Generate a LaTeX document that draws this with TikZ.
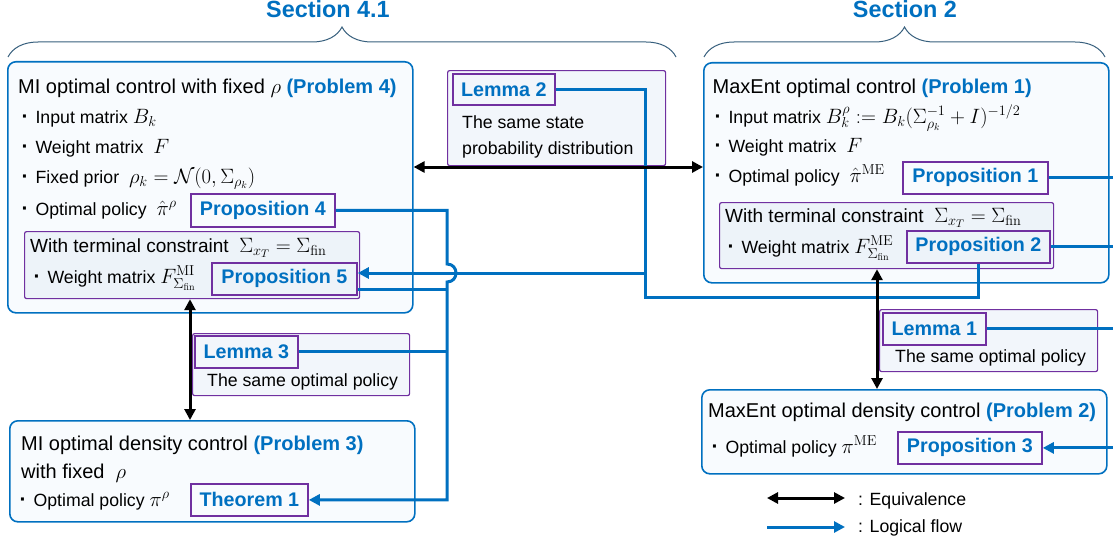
\documentclass[tikz,border=0pt]{standalone}
\usepackage[no-math]{fontspec}
\setmainfont{Liberation Sans}
\usetikzlibrary{arrows.meta,decorations.pathreplacing}
\definecolor{myblue}{RGB}{0,112,192}
\definecolor{mypurple}{RGB}{112,48,160}
\definecolor{boxfill}{RGB}{248,251,254}
\definecolor{innerfill}{RGB}{237,243,249}
\definecolor{lemfill}{RGB}{242,246,251}
\definecolor{bracecol}{RGB}{55,95,125}
\newcommand\itemfs{\fontsize{17.7pt}{21pt}\selectfont}
\newcommand\titlefs{\fontsize{20pt}{24pt}\selectfont}
\newcommand\termfs{\fontsize{19pt}{23pt}\selectfont}
\newcommand\labfs{\fontsize{19.7pt}{23pt}\selectfont\bfseries}
\newcommand\secfs{\fontsize{23.4pt}{28pt}\selectfont\bfseries}
\newcommand\mybul{\makebox[4.9pt][c]{\fontsize{21pt}{21pt}\selectfont\textbf{·}}\hspace{0.45em}}
\newcommand\mm[1]{{\fontsize{19.5pt}{23pt}\selectfont$#1$}}
\newcommand\mt[1]{{\fontsize{21pt}{25pt}\selectfont$#1$}}
\newcommand\prob[1]{\textcolor{myblue}{\textbf{(Problem #1)}}}
\begin{document}
\begin{tikzpicture}[x=1pt,y=-1pt,
  bigbox/.style={draw=myblue,line width=1.6pt,rounded corners=8pt,fill=boxfill,anchor=north west,inner sep=0pt},
  innerbox/.style={draw=mypurple,line width=1.2pt,rounded corners=2pt,fill=innerfill,anchor=north west,inner sep=0pt},
  lembox/.style={draw=mypurple,line width=1.2pt,rounded corners=2pt,fill=lemfill,anchor=north west,inner sep=0pt},
  labbox/.style={draw=mypurple,line width=1.8pt,anchor=north west,inner sep=0pt,text=myblue,font=\labfs},
  txt/.style={anchor=base west,inner sep=0pt,font=\itemfs},
  ttl/.style={anchor=base west,inner sep=0pt,font=\titlefs},
  trm/.style={anchor=base west,inner sep=0pt,font=\termfs},
  flow/.style={draw=myblue,line width=3pt},
  flowarrow/.style={flow,-{Triangle[length=11pt,width=11pt]}},
  equiv/.style={draw=black,line width=3pt,{Triangle[length=11pt,width=11pt]}-{Triangle[length=11pt,width=11pt]}},
  sbrace/.style={draw=bracecol,line width=1pt,decorate,decoration={brace,amplitude=30pt}}
]
\useasboundingbox (0,0) rectangle (1113,543);

% section labels and braces
\node[font=\secfs,text=myblue,anchor=base,inner sep=0pt] (s41) at (328,18) {Section 4.1};
\node[font=\secfs,text=myblue,anchor=base,inner sep=0pt] (s2) at (905,18) {Section 2};
\coordinate (br1a) at (8,57);
\coordinate (br1b) at (676,57);
\coordinate (br2a) at (704,57);
\coordinate (br2b) at (1105,57);
\draw[sbrace] (br1a) -- (br1b);
\draw[sbrace] (br2a) -- (br2b);

% big boxes
\node[bigbox,minimum width=405pt,minimum height=251pt] (A) at (7,61) {};
\node[innerbox,minimum width=335pt,minimum height=67pt] (IA) at (24,231) {};
\node[bigbox,minimum width=405pt,minimum height=220pt] (B) at (703,62) {};
\node[innerbox,minimum width=334pt,minimum height=66pt] (IB) at (719,202) {};
\node[bigbox,minimum width=405pt,minimum height=101pt] (C) at (9,420) {};
\node[bigbox,minimum width=405pt,minimum height=84pt] (D) at (701,389) {};
\node[lembox,minimum width=218pt,minimum height=95pt] (L2box) at (447,70) {};
\node[lembox,minimum width=217pt,minimum height=62pt] (L3box) at (192,333) {};
\node[lembox,minimum width=218pt,minimum height=62pt] (L1box) at (879,309) {};

% texts box A
\node[ttl] (At) at (18,93) {MI optimal control with fixed \mm{\rho} \prob{4}};
\node[txt] (Ai1) at (22.5,123) {\mybul Input matrix \mm{B_k}};
\node[txt] (Ai2) at (22.5,153) {\mybul Weight matrix~~\mm{F}};
\node[txt] (Ai3) at (22.5,183) {\mybul Fixed prior~~\mm{\rho_k = \mathcal{N}(0,\Sigma_{\rho_k})}};
\node[txt] (Ai4) at (22.5,215) {\mybul Optimal policy~~\mm{\hat{\pi}^{\rho}}};
\node[trm] (IAt) at (30,252) {With terminal constraint~~\mt{\Sigma_{x_T} = \Sigma_{\mathrm{fin}}}};
\node[txt] (IAi) at (34.5,283) {\mybul Weight matrix \mm{F^{\mathrm{MI}}_{\Sigma_{\mathrm{fin}}}}};

% texts box B
\node[ttl] (Bt) at (712.5,93) {MaxEnt optimal control \prob{1}};
\node[txt] (Bi1) at (715.5,123) {\mybul Input matrix \mm{B^{\rho}_k := B_k(\Sigma_{\rho_k}^{-1}+I)^{-1/2}}};
\node[txt] (Bi2) at (715.5,152) {\mybul Weight matrix~~\mm{F}};
\node[txt] (Bi3) at (715.5,182) {\mybul Optimal policy~~\mm{\hat{\pi}^{\mathrm{ME}}}};
\node[trm] (IBt) at (725,222) {With terminal constraint~~\mt{\Sigma_{x_T} = \Sigma_{\mathrm{fin}}}};
\node[txt] (IBi) at (728.5,253) {\mybul Weight matrix \mm{F^{\mathrm{ME}}_{\Sigma_{\mathrm{fin}}}}};

% texts box C
\node[ttl] (Ct) at (21,450) {MI optimal density control \prob{3}};
\node[ttl] (Ct2) at (21,478) {with fixed~~\mm{\rho}};
\node[txt] (Ci) at (20.5,506) {\mybul Optimal policy \mm{\pi^{\rho}}};

% texts box D
\node[ttl] (Dt) at (708,417) {MaxEnt optimal density control \prob{2}};
\node[txt] (Di) at (712.5,453) {\mybul Optimal policy \mm{\pi^{\mathrm{ME}}}};

% lemma texts
\node[txt] (L2a) at (462,128) {The same state};
\node[txt] (L2b) at (462,154) {probability distribution};
\node[txt] (L3a) at (207,386) {The same optimal policy};
\node[txt] (L1a) at (895,362) {The same optimal policy};

% label boxes
\node[labbox,minimum width=144pt,minimum height=33pt] (P4) at (190,193) {Proposition 4};
\node[labbox,minimum width=145pt,minimum height=32pt] (P5) at (211,262) {Proposition 5};
\node[labbox,minimum width=145pt,minimum height=32pt] (P1) at (902,161) {Proposition 1};
\node[labbox,minimum width=143pt,minimum height=32pt] (P2) at (906,230) {Proposition 2};
\node[labbox,minimum width=144pt,minimum height=32pt] (P3) at (897,431) {Proposition 3};
\node[labbox,minimum width=117pt,minimum height=32pt] (T1) at (190,483) {Theorem 1};
\node[labbox,minimum width=102pt,minimum height=31pt] (L2) at (452,73) {Lemma 2};
\node[labbox,minimum width=103pt,minimum height=32pt] (L3) at (194,335) {Lemma 3};
\node[labbox,minimum width=103pt,minimum height=32pt] (L1) at (882,312) {Lemma 1};

% helper coordinates
\coordinate (b1) at (447,264);
\coordinate (b2) at (447,282);
\coordinate (j5) at (645,273);
\coordinate (k5) at (447,289);
\coordinate (j2) at (645,297);
\coordinate (e1) at (0,167);
\coordinate (v1) at (190,0);
\coordinate (v2) at (877,0);
\coordinate (edge) at (1113,0);

% logical flow
\draw[flow] (L2.east) -| (j2) -| (P2.south);
\draw[flowarrow] (j5) -- (P5.east |- j5);
\draw[flow] (P5.east |- k5) -- (k5);
\draw[flowarrow] (P4.east) -| (b1) .. controls +(12,0) and +(12,0) .. (b2) -- (b2 |- T1.east) -- (T1.east);
\draw[flow] (L3.east) -- (L3.east -| b1);
\draw[flow] (P1.east) -- (P1.east -| edge);
\draw[flow] (P2.east) -- (P2.east -| edge);
\draw[flow] (L1.east) -- (L1.east -| edge);
\draw[flowarrow] (P3.east -| edge) -- (P3.east);

% equivalences
\draw[equiv] (A.east |- e1) -- (B.west |- e1);
\draw[equiv] (IA.south -| v1) -- (C.north -| v1);
\draw[equiv] (IB.south -| v2) -- (D.north -| v2);

% legend
\coordinate (lg1) at (767,498);
\coordinate (lg2) at (845,498);
\coordinate (lg3) at (767,527);
\coordinate (lg4) at (845,527);
\draw[equiv] (lg1) -- (lg2);
\draw[flowarrow] (lg3) -- (lg4);
\node[txt] (lgt1) at (858,505) {: Equivalence};
\node[txt] (lgt2) at (858,532) {: Logical flow};
\end{tikzpicture}
\end{document}
